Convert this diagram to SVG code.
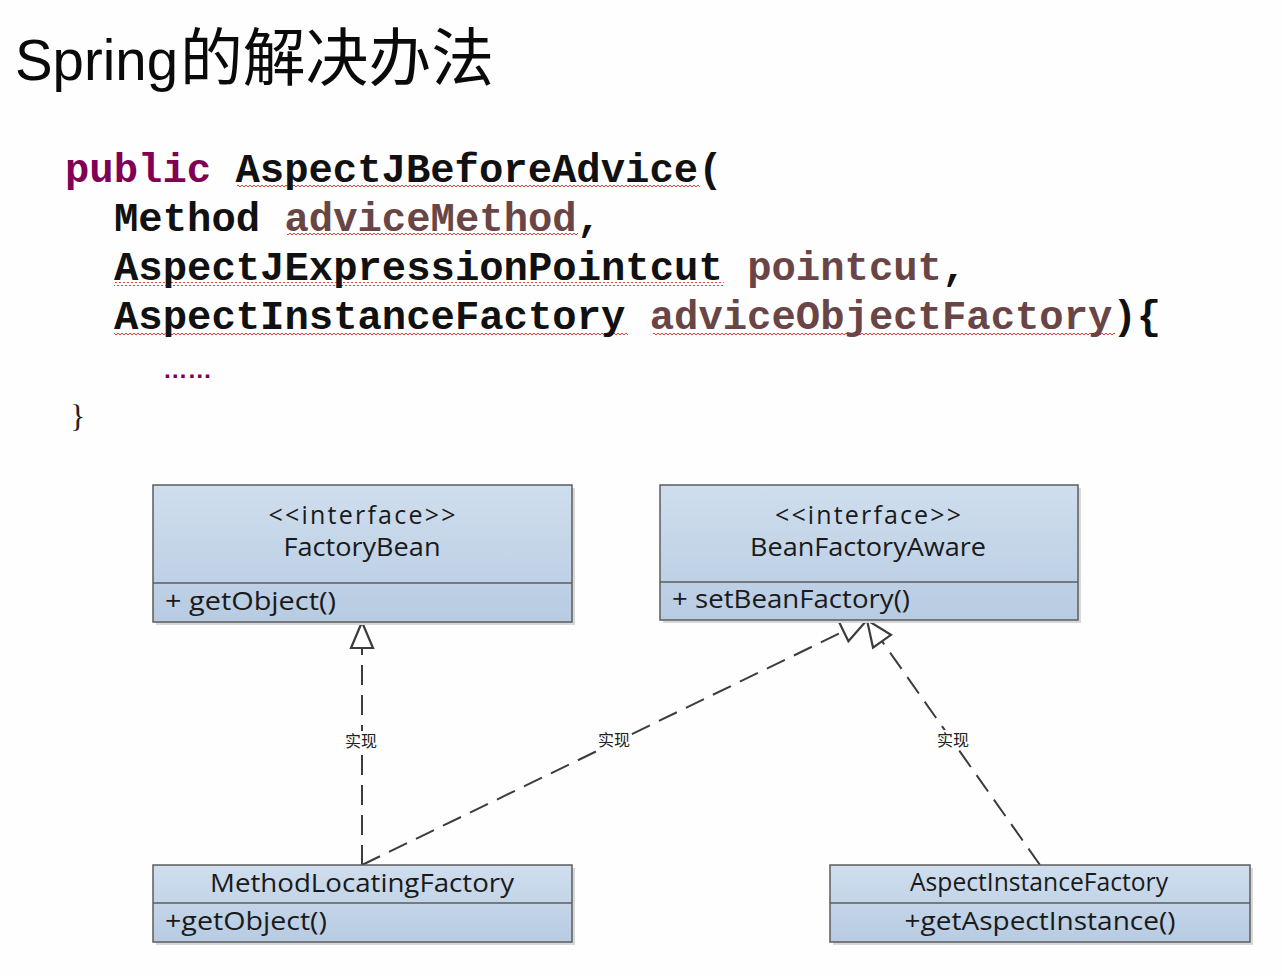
<svg xmlns="http://www.w3.org/2000/svg" width="1282" height="976" viewBox="0 0 1282 976">
<defs>
<style>
.code{font-family:"Liberation Mono","DejaVu Sans Mono",monospace;font-weight:bold;font-size:40.6px;}
.kw{fill:#7f0055;}
.ty{fill:#111;}
.pa{fill:#6a4545;}
.uml{font-family:"Open Sans","Liberation Sans",sans-serif;font-size:25px;fill:#1a1a1a;}
.box{fill:url(#g);stroke:#5c5c5c;stroke-width:1.5;}
.shadow{fill:#d8d8d8;}
.div{stroke:#5c5c5c;stroke-width:1.5;}
.conn{fill:none;stroke:#3c3c3c;stroke-width:2;stroke-dasharray:20 10;}
.lbl{font-family:"Noto Sans CJK SC","Liberation Sans",sans-serif;font-size:16px;fill:#222;}
</style>
<linearGradient id="g" x1="0" y1="0" x2="0" y2="1">
<stop offset="0" stop-color="#cfdeee"/>
<stop offset="1" stop-color="#b7cbe2"/>
</linearGradient>
<pattern id="sq" width="4" height="4" patternUnits="userSpaceOnUse">
<path d="M0,3 L2,1 L4,3" fill="none" stroke="#e04040" stroke-width="1"/>
</pattern>
<marker id="tri" viewBox="-28 -13 30 26" refX="0" refY="0" markerWidth="30" markerHeight="26" markerUnits="userSpaceOnUse" orient="auto">
<path d="M0,0 L-26,-11 L-26,11 Z" fill="#ffffff" stroke="#3c3c3c" stroke-width="2.2" stroke-linejoin="miter"/>
</marker>
</defs>
<rect width="1282" height="976" fill="#fefefe"/>

<g id="title">
<text x="15" y="80" font-family="Liberation Sans,sans-serif" font-size="57" fill="#0a0a0a" textLength="163" lengthAdjust="spacingAndGlyphs">Spring</text>
<text x="180" y="80" font-family="Noto Sans CJK SC,sans-serif" font-size="63" fill="#0a0a0a" textLength="314" lengthAdjust="spacingAndGlyphs">的解决办法</text>
</g>

<g id="code">
<rect x="237" y="185" width="463" height="4" fill="url(#sq)"/>
<rect x="287" y="233" width="291" height="4" fill="url(#sq)"/>
<rect x="114" y="282" width="610" height="4" fill="url(#sq)"/>
<rect x="114" y="331" width="514" height="4" fill="url(#sq)"/>
<rect x="653" y="331" width="462" height="4" fill="url(#sq)"/>
<text class="code" x="65" y="182"><tspan class="kw">public</tspan><tspan class="ty"> AspectJBeforeAdvice(</tspan></text>
<text class="code" x="114" y="231"><tspan class="ty">Method </tspan><tspan class="pa">adviceMethod</tspan><tspan class="ty">,</tspan></text>
<text class="code" x="114" y="280"><tspan class="ty">AspectJExpressionPointcut </tspan><tspan class="pa">pointcut</tspan><tspan class="ty">,</tspan></text>
<text class="code" x="114" y="329"><tspan class="ty">AspectInstanceFactory </tspan><tspan class="pa">adviceObjectFactory</tspan><tspan class="ty">){</tspan></text>
<text x="163" y="378" font-family="Liberation Sans,sans-serif" font-size="24" font-weight="bold" fill="#7f0055" textLength="49" lengthAdjust="spacingAndGlyphs">……</text>
<text x="70" y="427" font-family="Liberation Serif,serif" font-size="32" fill="#222">}</text>
</g>

<g id="connectors">
<path class="conn" d="M362,865 L362,622" marker-end="url(#tri)"/>
<path class="conn" d="M362,865 L867,620" marker-end="url(#tri)"/>
<path class="conn" d="M1040,865 L867,620" marker-end="url(#tri)"/>
<rect x="344" y="731" width="34" height="20" fill="#fefefe"/>
<text class="lbl" x="361" y="747" text-anchor="middle">实现</text>
<rect x="597" y="730" width="34" height="18" fill="#fefefe"/>
<text class="lbl" x="614" y="746" text-anchor="middle">实现</text>
<rect x="936" y="730" width="34" height="20" fill="#fefefe"/>
<text class="lbl" x="953" y="746" text-anchor="middle">实现</text>
</g>

<g id="FactoryBean">
<rect class="shadow" x="156" y="488" width="419" height="137"/>
<rect class="box" x="153" y="485" width="419" height="137"/>
<line class="div" x1="153" y1="583" x2="572" y2="583"/>
<text class="uml" x="362" y="524" text-anchor="middle" textLength="187" lengthAdjust="spacing">&lt;&lt;interface&gt;&gt;</text>
<text class="uml" x="362" y="556" text-anchor="middle" textLength="157" lengthAdjust="spacingAndGlyphs">FactoryBean</text>
<text class="uml" x="165" y="610" textLength="171" lengthAdjust="spacingAndGlyphs">+ getObject()</text>
</g>

<g id="BeanFactoryAware">
<rect class="shadow" x="663" y="488" width="418" height="135"/>
<rect class="box" x="660" y="485" width="418" height="135"/>
<line class="div" x1="660" y1="582" x2="1078" y2="582"/>
<text class="uml" x="868" y="524" text-anchor="middle" textLength="186" lengthAdjust="spacing">&lt;&lt;interface&gt;&gt;</text>
<text class="uml" x="868" y="556" text-anchor="middle" textLength="236" lengthAdjust="spacingAndGlyphs">BeanFactoryAware</text>
<text class="uml" x="672" y="608" textLength="238" lengthAdjust="spacingAndGlyphs">+ setBeanFactory()</text>
</g>

<g id="MethodLocatingFactory">
<rect class="shadow" x="156" y="868" width="419" height="77"/>
<rect class="box" x="153" y="865" width="419" height="77"/>
<line class="div" x1="153" y1="903" x2="572" y2="903"/>
<text class="uml" x="362" y="892" text-anchor="middle" textLength="304" lengthAdjust="spacingAndGlyphs">MethodLocatingFactory</text>
<text class="uml" x="165" y="930" textLength="162" lengthAdjust="spacingAndGlyphs">+getObject()</text>
</g>

<g id="AspectInstanceFactory">
<rect class="shadow" x="833" y="868" width="420" height="77"/>
<rect class="box" x="830" y="865" width="420" height="77"/>
<line class="div" x1="830" y1="903" x2="1250" y2="903"/>
<text class="uml" x="1039" y="891" text-anchor="middle" font-size="23" textLength="258" lengthAdjust="spacingAndGlyphs">AspectInstanceFactory</text>
<text class="uml" x="1040" y="930" text-anchor="middle" textLength="271" lengthAdjust="spacingAndGlyphs">+getAspectInstance()</text>
</g>
</svg>
